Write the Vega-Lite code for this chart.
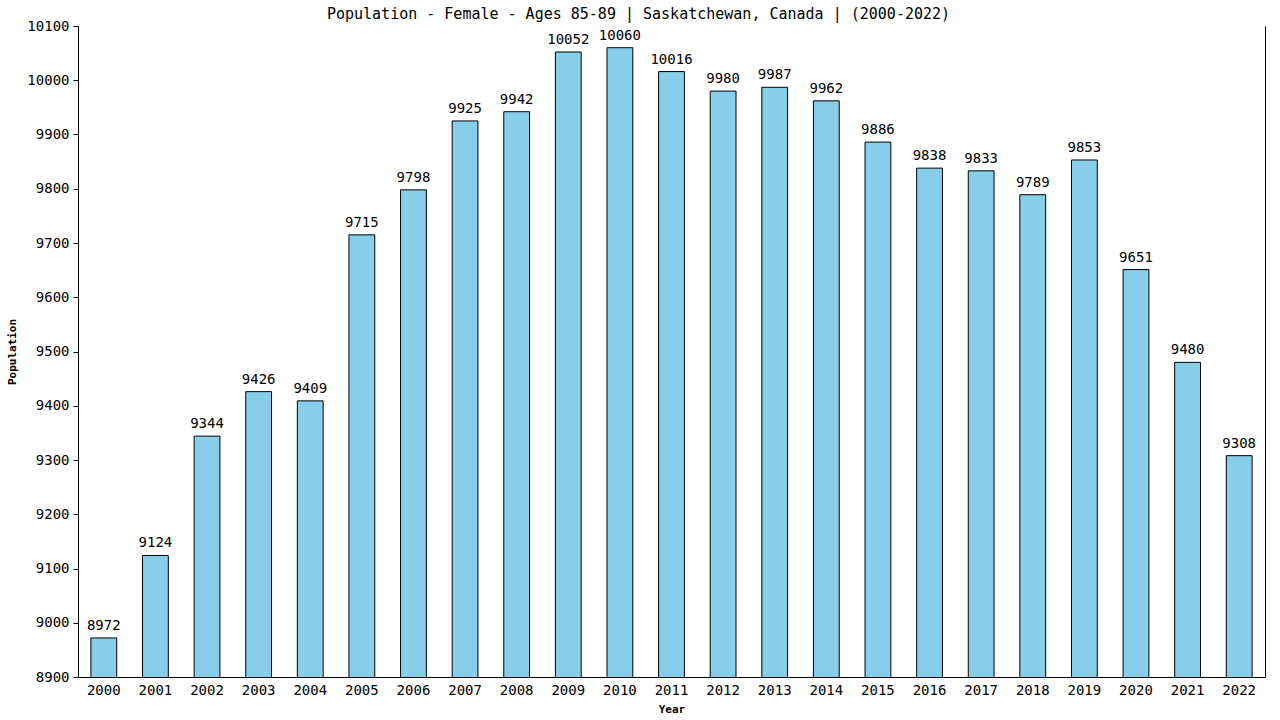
{
  "$schema": "https://vega.github.io/schema/vega-lite/v6.json",
  "autosize": "none",
  "padding": {"left": 78, "top": 26, "right": 15, "bottom": 43},
  "width": 1187,
  "height": 651,
  "background": "white",
  "title": {
    "text": "Population - Female - Ages 85-89 | Saskatchewan, Canada |  (2000-2022)",
    "font": "DejaVu Sans Mono",
    "fontSize": 15,
    "fontWeight": "normal",
    "color": "black",
    "anchor": "middle",
    "dx": -33,
    "offset": -3
  },
  "data": {
    "values": [
      {"year": "2000", "population": 8972},
      {"year": "2001", "population": 9124},
      {"year": "2002", "population": 9344},
      {"year": "2003", "population": 9426},
      {"year": "2004", "population": 9409},
      {"year": "2005", "population": 9715},
      {"year": "2006", "population": 9798},
      {"year": "2007", "population": 9925},
      {"year": "2008", "population": 9942},
      {"year": "2009", "population": 10052},
      {"year": "2010", "population": 10060},
      {"year": "2011", "population": 10016},
      {"year": "2012", "population": 9980},
      {"year": "2013", "population": 9987},
      {"year": "2014", "population": 9962},
      {"year": "2015", "population": 9886},
      {"year": "2016", "population": 9838},
      {"year": "2017", "population": 9833},
      {"year": "2018", "population": 9789},
      {"year": "2019", "population": 9853},
      {"year": "2020", "population": 9651},
      {"year": "2021", "population": 9480},
      {"year": "2022", "population": 9308}
    ]
  },
  "config": {
    "view": {"stroke": null},
    "axis": {
      "labelFont": "DejaVu Sans Mono",
      "labelFontSize": 14,
      "labelColor": "black",
      "titleFont": "DejaVu Sans Mono",
      "titleFontSize": 11,
      "titleFontWeight": "bold",
      "titleColor": "black",
      "domainColor": "black",
      "tickColor": "black",
      "grid": false
    }
  },
  "encoding": {
    "x": {
      "field": "year",
      "type": "ordinal",
      "title": "Year",
      "scale": {"paddingInner": 0.5, "paddingOuter": 0.25},
      "axis": {"labelAngle": 0, "ticks": false, "labelPadding": 6, "titleY": 26}
    }
  },
  "layer": [
    {
      "mark": {"type": "bar", "color": "#87CEEB", "stroke": "black", "strokeWidth": 1, "clip": true},
      "encoding": {
        "y": {
          "field": "population",
          "type": "quantitative",
          "title": "Population",
          "scale": {"domain": [8900, 10100], "zero": false, "nice": false},
          "axis": {"values": [8900, 9000, 9100, 9200, 9300, 9400, 9500, 9600, 9700, 9800, 9900, 10000, 10100], "format": "d", "tickSize": 5, "labelPadding": 4, "titleX": -61}
        }
      }
    },
    {
      "mark": {"type": "text", "font": "DejaVu Sans Mono", "fontSize": 14, "color": "black", "baseline": "bottom", "dy": -5},
      "encoding": {
        "y": {
          "field": "population",
          "type": "quantitative",
          "scale": {"domain": [8900, 10100], "zero": false, "nice": false},
          "axis": {"orient": "right", "labels": false, "ticks": false, "title": null}
        },
        "text": {"field": "population", "type": "quantitative", "format": "d"}
      }
    }
  ],
  "resolve": {"axis": {"y": "independent"}}
}
